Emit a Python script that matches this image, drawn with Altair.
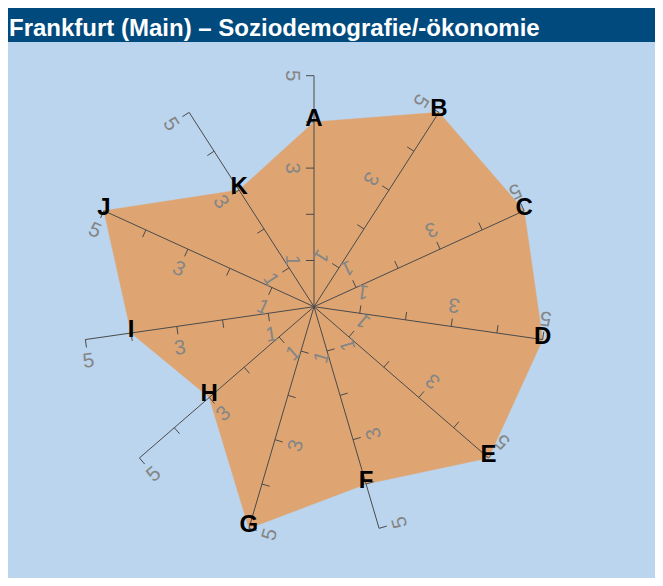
import math
import altair as alt
import pandas as pd

# ---- data ----
categories = ["A", "B", "C", "D", "E", "F", "G", "H", "I", "J", "K"]
values = [4, 5, 5, 5, 5, 4, 5, 3, 4, 5, 3]
tick_values = [1, 2, 3, 4, 5]
label_values = [1, 3, 5]
axis_max = 5
title_text = "Frankfurt (Main) – Soziodemografie/-ökonomie"

# ---- layout constants ----
UNIT = 46.2          # pixels per value unit
W, H = 647, 536      # plot area
CX, CY = 306, 264.7  # centre of the radar inside the plot area
TICK_LEN = 8
LABEL_OFF = 22

n = len(categories)
angles = [360.0 * i / n for i in range(n)]


def pt(v, phi):
    r = math.radians(phi)
    return v * math.sin(r), v * math.cos(r)


def perp(phi, px):
    r = math.radians(phi)
    d = px / UNIT
    return -math.cos(r) * d, math.sin(r) * d


poly_rows, spoke_rows, tick_rows, lab_rows, let_rows = [], [], [], [], []
for i, (c, v, phi) in enumerate(zip(categories, values, angles)):
    x, y = pt(v, phi)
    poly_rows.append({"idx": i, "cat": c, "x": x, "y": y})
    let_rows.append({"cat": c, "x": x, "y": y})
    ex, ey = pt(axis_max, phi)
    spoke_rows.append({"cat": c, "x": 0.0, "y": 0.0, "x2": ex, "y2": ey})
    for t in tick_values:
        tx, ty = pt(t, phi)
        px, py = perp(phi, TICK_LEN)
        tick_rows.append({"cat": c, "x": tx, "y": ty, "x2": tx + px, "y2": ty + py})
    for t in label_values:
        tx, ty = pt(t, phi)
        px, py = perp(phi, LABEL_OFF)
        lab_rows.append({"cat": c, "x": tx + px, "y": ty + py,
                         "text": str(t), "ang": (phi + 90) % 360})

poly_df = pd.DataFrame(poly_rows)
spoke_df = pd.DataFrame(spoke_rows)
tick_df = pd.DataFrame(tick_rows)
lab_df = pd.DataFrame(lab_rows)
let_df = pd.DataFrame(let_rows)

xscale = alt.Scale(domain=[-CX / UNIT, (W - CX) / UNIT], nice=False, zero=False)
yscale = alt.Scale(domain=[-(H - CY) / UNIT, CY / UNIT], nice=False, zero=False)
X = lambda f: alt.X(f, scale=xscale, axis=None)
Y = lambda f: alt.Y(f, scale=yscale, axis=None)

polygon = alt.Chart(poly_df).mark_line(
    interpolate="linear-closed", fill="#DEA573", stroke="#DEA573", strokeWidth=0.5
).encode(x=X("x:Q"), y=Y("y:Q"), order="idx:Q")

spokes = alt.Chart(spoke_df).mark_rule(color="#4a4a4a", strokeWidth=1).encode(
    x=X("x:Q"), y=Y("y:Q"), x2="x2:Q", y2="y2:Q"
)

ticks = alt.Chart(tick_df).mark_rule(color="#4a4a4a", strokeWidth=1).encode(
    x=X("x:Q"), y=Y("y:Q"), x2="x2:Q", y2="y2:Q"
)

labels = alt.Chart(lab_df).mark_text(
    font="Liberation Sans", fontSize=20.5, color="#858585",
    align="center", baseline="middle"
).encode(x=X("x:Q"), y=Y("y:Q"), text="text:N",
         angle=alt.Angle("ang:Q", scale=None))

letters = alt.Chart(let_df).mark_text(
    font="Liberation Sans", fontSize=24, fontWeight="bold", color="black",
    align="center", baseline="alphabetic", dy=4
).encode(x=X("x:Q"), y=Y("y:Q"), text="cat:N")

chart = alt.layer(polygon, spokes, ticks, labels, letters).properties(
    width=W, height=H,
    title=alt.TitleParams(
        text=title_text, anchor="start", font="Liberation Sans", fontSize=24,
        fontWeight="bold", color="white", offset=1, baseline="top", dx=1
    ),
    autosize=alt.AutoSizeParams(type="none"),
    padding={"top": 34, "left": 0, "right": 0, "bottom": 0},
    background="#004A7E",
).configure_view(fill="#BBD5EE", strokeWidth=0)

chart.save("out.html", embed_options={"renderer": "svg", "actions": False})
